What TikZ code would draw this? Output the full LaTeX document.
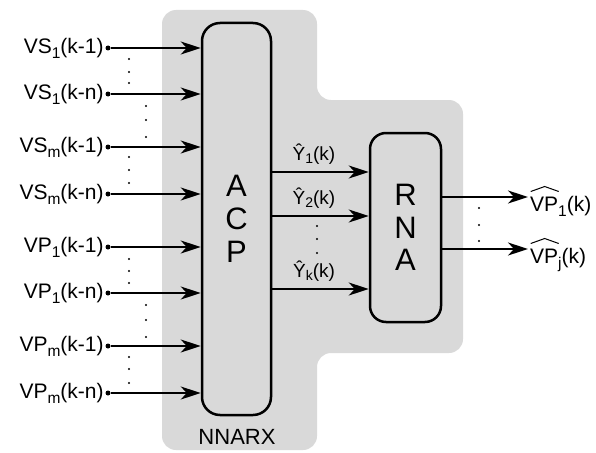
\documentclass[tikz,border=0pt]{standalone}
\usepackage{fontspec}
\setmainfont{Liberation Sans}
\usetikzlibrary{arrows.meta}
\definecolor{bggray}{HTML}{D9D9D9}
\newcommand{\lowsub}[1]{\raisebox{-5pt}{\fontsize{15.5}{15.5}\selectfont #1}}
\newcommand{\ysub}[1]{\raisebox{-3.5pt}{\fontsize{14}{14}\selectfont #1}}
\newcommand{\whvp}{\makebox[0pt][l]{\raisebox{19pt}{\tikz[x=1pt,y=1pt]\draw[line width=1pt,line join=miter] (0,0) -- (14,5) -- (28,0);}}VP}
\begin{document}
\begin{tikzpicture}[x=1pt,y=-1pt,
  box/.style={draw,line width=2.5pt,align=center},
  arr/.style={line width=2pt,-{Stealth[length=20pt,width=13pt,inset=6pt]}},
  lab/.style={font=\fontsize{21}{24}\selectfont,inner sep=1.5pt},
  ylab/.style={font=\fontsize{19}{21}\selectfont,inner sep=0pt,anchor=base},
  pin/.style={circle,fill,inner sep=0pt,minimum size=5pt}]
\useasboundingbox (0,0) rectangle (596,452);
\fill[bggray,rounded corners=14pt] (162,10) -- (317,10) -- (317,100) -- (463,100)
  -- (463,353) -- (317,353) -- (317,450) -- (162,450) -- cycle;
\node[box,rounded corners=18pt,minimum width=69pt,minimum height=392pt,
  font=\fontsize{31}{33}\selectfont] (acp) at (236.5,219) {A\\C\\P};
\node[box,rounded corners=16pt,minimum width=71pt,minimum height=189pt,
  font=\fontsize{31}{32.5}\selectfont] (rna) at (405.5,227.5) {R\\N\\A};
\node[font=\fontsize{22}{24}\selectfont,inner sep=0pt] (nnarx) at (237,437) {NNARX};
\foreach \i/\y/\t in {1/48/VS\lowsub{1}(k-1), 2/94/VS\lowsub{1}(k-n),
  3/147/VS\lowsub{m}(k-1), 4/194/VS\lowsub{m}(k-n),
  5/247/VP\lowsub{1}(k-1), 6/293/VP\lowsub{1}(k-n),
  7/346/VP\lowsub{m}(k-1), 8/393/VP\lowsub{m}(k-n)}{
  \node[pin] (p\i) at (108,\y) {};
  \node[lab,anchor=east] (l\i) at (p\i.west) {\t};
  \draw[arr] (p\i) -- (p\i -| acp.west);
}
\foreach \y in {59,72,83,157,170,183,259,271,283,357,369,383}
  \fill (129,\y) circle (1.1pt);
\foreach \y in {106,120,137,305,320,337}
  \fill (146,\y) circle (1.1pt);
% ACP -> RNA
\coordinate (y1) at (314,172);
\coordinate (y2) at (314,216);
\coordinate (y3) at (314,289);
\draw[arr] (acp.east |- y1) -- (rna.west |- y1);
\draw[arr] (acp.east |- y2) -- (rna.west |- y2);
\draw[arr] (acp.east |- y3) -- (rna.west |- y3);
\node[ylab] (ly1) at (314,160) {Ŷ\ysub{1}(k)};
\node[ylab] (ly2) at (314,204) {Ŷ\ysub{2}(k)};
\node[ylab] (ly3) at (314,277) {Ŷ\ysub{k}(k)};
\foreach \y in {226,239,253}
  \fill (317,\y) circle (1.1pt);
% RNA outputs
\coordinate (o1) at (528,197);
\coordinate (o2) at (528,249);
\draw[arr] (rna.east |- o1) -- (o1);
\draw[arr] (rna.east |- o2) -- (o2);
\node[lab,anchor=base west,inner sep=1pt] (lo1) at (529,211) {\whvp\lowsub{1}(k)};
\node[lab,anchor=base west,inner sep=1pt] (lo2) at (529,263) {\whvp\lowsub{j}(k)};
\foreach \y in {208,225,241}
  \fill (479,\y) circle (1.1pt);
\end{tikzpicture}
\end{document}
